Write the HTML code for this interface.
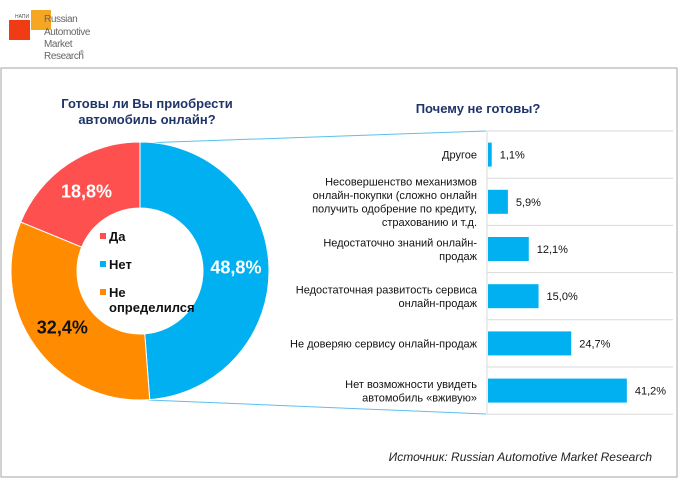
<!DOCTYPE html>
<html><head><meta charset="utf-8">
<style>
body{margin:0;width:680px;height:479px;background:#fff;overflow:hidden;font-family:"Liberation Sans",Arial,sans-serif;}
svg text{font-family:"Liberation Sans",Arial,sans-serif;}
</style></head>
<body>
<svg width="680" height="479">
<rect x="1" y="68" width="676" height="409" fill="none" stroke="#a6a6a6" stroke-width="1"/>
<g>
<rect x="31" y="10" width="20" height="20" fill="#f5a623"/>
<rect x="9" y="20" width="21" height="20" fill="#f03c14"/>
<text x="15" y="18" font-size="5" fill="#555">НАПИ</text>
<text x="44" y="22" font-size="10" fill="#666" letter-spacing="-0.4">Russian</text>
<text x="44" y="35" font-size="10" fill="#666" letter-spacing="-0.4">Automotive</text>
<text x="44" y="47" font-size="10" fill="#666" letter-spacing="-0.4">Market</text>
<text x="44" y="59" font-size="10" fill="#666" letter-spacing="-0.4">Research</text>
<text x="80" y="54" font-size="5" fill="#666">®</text>
</g>
<text x="147" y="108" font-size="13" font-weight="bold" fill="#1f3468" text-anchor="middle">Готовы ли Вы приобрести</text>
<text x="147" y="124" font-size="13" font-weight="bold" fill="#1f3468" text-anchor="middle">автомобиль онлайн?</text>
<text x="478" y="113" font-size="13" font-weight="bold" fill="#1f3468" text-anchor="middle">Почему не готовы?</text>
<line x1="142" y1="143" x2="486" y2="131" stroke="#5bc0eb" stroke-width="1"/>
<line x1="148" y1="400" x2="486" y2="414" stroke="#5bc0eb" stroke-width="1"/>
<g id="donut"></g>
<g id="bars"></g>
<text x="652" y="461" font-size="12" font-style="italic" fill="#222" text-anchor="end">Источник: Russian Automotive Market Research</text>
</svg>
<script>
const donutLabels=["Нет","Не определился","Да"];
const donutValues=[48.8,32.4,18.8];
const donutColors=["#00b0f0","#ff8c00","#ff5050"];
const barCategories=[["Другое"],["Несовершенство механизмов","онлайн-покупки (сложно онлайн","получить одобрение по кредиту,","страхованию и т.д."],["Недостаточно знаний онлайн-","продаж"],["Недостаточная развитость сервиса","онлайн-продаж"],["Не доверяю сервису онлайн-продаж"],["Нет возможности увидеть","автомобиль «вживую»"]];
const barValues=[1.1,5.9,12.1,15.0,24.7,41.2];
const NS="http://www.w3.org/2000/svg";
function mk(t,a,p){const e=document.createElementNS(NS,t);for(const k in a)e.setAttribute(k,a[k]);p.appendChild(e);return e;}
const fmt=v=>v.toFixed(1).replace('.',',')+'%';
// donut
const dg=document.getElementById('donut');
const cx=140,cy=271,R=129,r=63;
const total=donutValues.reduce((a,b)=>a+b,0);
let a0=0;
const pt=(rad,ang)=>[cx+rad*Math.sin(ang),cy-rad*Math.cos(ang)];
donutValues.forEach((v,i)=>{
  const a1=a0+v/total*2*Math.PI;
  const [x1,y1]=pt(R,a0),[x2,y2]=pt(R,a1),[x3,y3]=pt(r,a1),[x4,y4]=pt(r,a0);
  const lg=(a1-a0)>Math.PI?1:0;
  const p=mk('path',{d:`M${x1},${y1}A${R},${R} 0 ${lg} 1 ${x2},${y2}L${x3},${y3}A${r},${r} 0 ${lg} 0 ${x4},${y4}Z`,fill:donutColors[i],stroke:'#fff','stroke-width':1},dg);
  
  
  const am=(a0+a1)/2;const [lx,ly]=pt(96,am);
  const t=mk('text',{x:lx,y:ly+6,'font-size':18,'font-weight':'bold','text-anchor':'middle',fill:i==1?'#111':'#fff'},dg);
  t.textContent=fmt(v);
  
  
  a0=a1;
});
// legend inside
const legOrder=[2,0,1];const legY=[241,269,297];
legOrder.forEach((k,j)=>{
  const s=mk('rect',{x:100,y:legY[j]-8,width:6,height:6,fill:donutColors[k]},dg);
  
  
  const words=donutLabels[k].split(' ');
  const t=mk('text',{x:109,y:legY[j],'font-size':13,'font-weight':'bold',fill:'#111'},dg);
  t.textContent=words[0];
  
  
  if(words[1]){const t2=mk('text',{x:109,y:legY[j]+15,'font-size':13,'font-weight':'bold',fill:'#111'},dg);t2.textContent=words[1];
  
  }
});
// bars
const bg=document.getElementById('bars');
const x0=487,pxPer=3.37,barTop=131,rowH=47.2,bh=24;
const ax=mk('line',{x1:x0,y1:barTop,x2:x0,y2:barTop+rowH*6,stroke:'#d9d9d9'},bg);


for(let i=0;i<=6;i++){const l=mk('line',{x1:x0,y1:barTop+i*rowH,x2:673,y2:barTop+i*rowH,stroke:'#d9d9d9'},bg);

}
barValues.forEach((v,i)=>{
  const c=barTop+rowH*(i+0.5);
  const b=mk('rect',{x:x0+1,y:c-bh/2,width:v*pxPer,height:bh,fill:'#00b0f0'},bg);
  
  
  const t=mk('text',{x:x0+1+v*pxPer+8,y:c+4,'font-size':11,fill:'#111'},bg);
  t.textContent=fmt(v);
  
  
  const lines=barCategories[i];const lh=13.5;
  lines.forEach((s,j)=>{
    const tt=mk('text',{x:477,y:c+4+(j-(lines.length-1)/2)*lh,'font-size':11,fill:'#111','text-anchor':'end'},bg);
    tt.textContent=s;
    
    
  });
});
</script>
</body></html>
